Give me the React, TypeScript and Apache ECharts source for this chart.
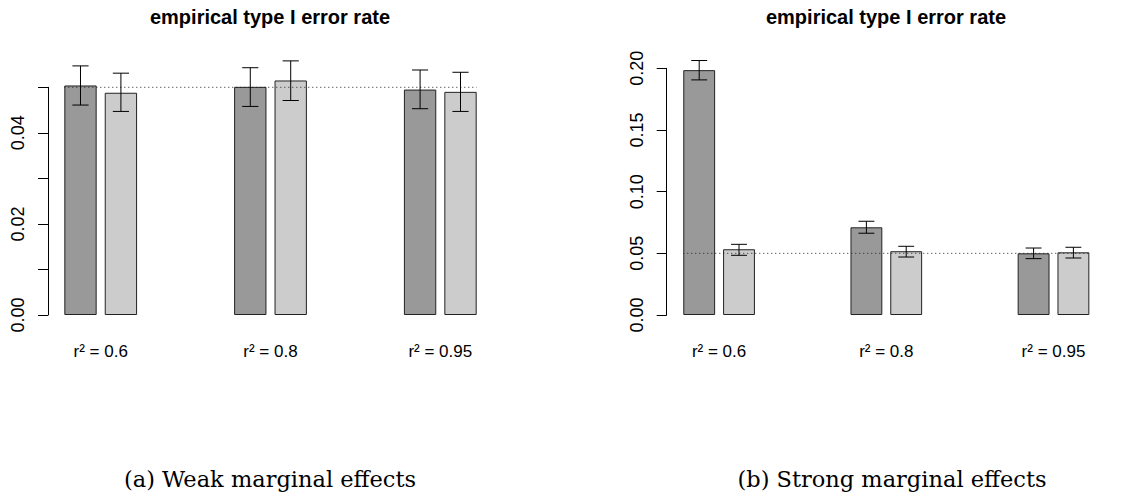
import React, { useEffect, useRef } from "react";
import * as echarts from "echarts";

// ---- data ----
const categories = ["r² = 0.6", "r² = 0.8", "r² = 0.95"];

// (a) weak marginal effects
const weakMethod1 = [0.0504, 0.0501, 0.0495];
const weakMethod1Lo = [0.0461, 0.0458, 0.0453];
const weakMethod1Hi = [0.0547, 0.0543, 0.0538];
const weakMethod2 = [0.0488, 0.0515, 0.049];
const weakMethod2Lo = [0.0447, 0.0471, 0.0447];
const weakMethod2Hi = [0.0531, 0.0558, 0.0533];

// (b) strong marginal effects
const strongMethod1 = [0.1985, 0.0711, 0.05];
const strongMethod1Lo = [0.1906, 0.0663, 0.0457];
const strongMethod1Hi = [0.2063, 0.076, 0.0543];
const strongMethod2 = [0.0533, 0.0517, 0.0508];
const strongMethod2Lo = [0.0484, 0.047, 0.0462];
const strongMethod2Hi = [0.0573, 0.0557, 0.0549];

const nominalLevel = 0.05;

const weakTicks = [0, 0.01, 0.02, 0.03, 0.04, 0.05];
const weakTickLabels = ["0.00", "", "0.02", "", "0.04", ""];
const strongTicks = [0, 0.05, 0.1, 0.15, 0.2];
const strongTickLabels = ["0.00", "0.05", "0.10", "0.15", "0.20"];

const panelTitle = "empirical type I error rate";
const captions = ["(a) Weak marginal effects", "(b) Strong marginal effects"];

// ---- layout constants ----
const SANS = "'Liberation Sans', Arial, Helvetica, sans-serif";
const SERIF = "'DejaVu Serif', 'Liberation Serif', serif";
const BAND_UNITS = 5.25; // category band measured in bar widths
const DARK = "#999999";
const LIGHT = "#cccccc";

function labelFor(ticks: number[], labels: string[]) {
  return (v: number) => {
    let best = 0;
    for (let i = 0; i < ticks.length; i++) {
      if (Math.abs(ticks[i] - v) < Math.abs(ticks[best] - v)) best = i;
    }
    return labels[best];
  };
}

function errorSeries(p: number, lo: number[], hi: number[], shift: number) {
  return {
    type: "custom",
    xAxisIndex: p,
    yAxisIndex: p,
    z: 4,
    silent: true,
    data: lo.map((l, i) => [i, l, hi[i]]),
    encode: { x: 0, y: [1, 2] },
    renderItem: (params: any, api: any) => {
      const cat = api.value(0);
      const pLo = api.coord([cat, api.value(1)]);
      const pHi = api.coord([cat, api.value(2)]);
      const band = api.size([1, 0])[0];
      const unit = band / BAND_UNITS;
      const x = pLo[0] + shift * unit;
      const half = 0.25 * unit;
      const style = { stroke: "#000", lineWidth: 1 };
      return {
        type: "group",
        children: [
          { type: "line", shape: { x1: x, y1: pLo[1], x2: x, y2: pHi[1] }, style },
          { type: "line", shape: { x1: x - half, y1: pLo[1], x2: x + half, y2: pLo[1] }, style },
          { type: "line", shape: { x1: x - half, y1: pHi[1], x2: x + half, y2: pHi[1] }, style },
        ],
      };
    },
  };
}

function refLineSeries(p: number) {
  return {
    type: "custom",
    xAxisIndex: p,
    yAxisIndex: p,
    z: 3,
    silent: true,
    data: [[0, nominalLevel]],
    renderItem: (params: any, api: any) => {
      const v = api.value(1);
      const a = api.coord([0, v]);
      const b = api.coord([categories.length - 1, v]);
      const unit = api.size([1, 0])[0] / BAND_UNITS;
      return {
        type: "line",
        shape: { x1: a[0] - 1.125 * unit, y1: a[1], x2: b[0] + 1.125 * unit, y2: b[1] },
        style: { stroke: "#222", lineWidth: 1, lineDash: [1, 3] },
      };
    },
  };
}

function barSeries(p: number, values: number[], color: string) {
  return {
    type: "bar",
    xAxisIndex: p,
    yAxisIndex: p,
    data: values,
    barWidth: (100 / BAND_UNITS).toFixed(3) + "%",
    barGap: "25%",
    clip: false,
    silent: true,
    itemStyle: { color, borderColor: "#222", borderWidth: 1 },
  };
}

export default function App() {
  const ref = useRef<HTMLDivElement>(null);

  useEffect(() => {
    document.body.style.margin = "0";
    if (!ref.current) return;
    const chart = echarts.init(ref.current, undefined, { renderer: "svg" });

    const xAxis = (p: number) => ({
      type: "category",
      gridIndex: p,
      data: categories,
      axisLine: { show: false },
      axisTick: { show: false },
      axisLabel: { margin: 28, fontSize: 17, color: "#000", fontFamily: SANS },
    });

    const yAxis = (p: number, max: number, interval: number, offset: number, ticks: number[], labels: string[]) => ({
      type: "value",
      gridIndex: p,
      min: 0,
      max,
      interval,
      offset,
      splitLine: { show: false },
      axisLine: { show: true, lineStyle: { color: "#000", width: 1 } },
      axisTick: { show: true, length: 10, lineStyle: { color: "#000", width: 1 } },
      axisLabel: {
        rotate: 90,
        margin: 21,
        fontSize: 18,
        color: "#000",
        fontFamily: SANS,
        formatter: labelFor(ticks, labels),
      },
    });

    const textEl = (x: number, y: number, text: string, font: any) => ({
      type: "text",
      x,
      y,
      silent: true,
      style: {
        text,
        fill: "#000",
        align: "center",
        verticalAlign: "middle",
        textAlign: "center",
        textVerticalAlign: "middle",
        ...font,
      },
    });

    chart.setOption({
      animation: false,
      backgroundColor: "#fff",
      grid: [
        { left: 15.8, width: 509.4, top: 87.3, height: 227.7 },
        { left: 635.5, width: 501.6, top: 68.3, height: 246.7 },
      ],
      xAxis: [xAxis(0), xAxis(1)],
      yAxis: [
        yAxis(0, 0.05, 0.01, -32.2, weakTicks, weakTickLabels),
        yAxis(1, 0.2, 0.05, -31.2, strongTicks, strongTickLabels),
      ],
      series: [
        barSeries(0, weakMethod1, DARK),
        barSeries(0, weakMethod2, LIGHT),
        refLineSeries(0),
        errorSeries(0, weakMethod1Lo, weakMethod1Hi, -0.625),
        errorSeries(0, weakMethod2Lo, weakMethod2Hi, 0.625),
        barSeries(1, strongMethod1, DARK),
        barSeries(1, strongMethod2, LIGHT),
        refLineSeries(1),
        errorSeries(1, strongMethod1Lo, strongMethod1Hi, -0.625),
        errorSeries(1, strongMethod2Lo, strongMethod2Hi, 0.625),
      ],
      graphic: [
        textEl(270, 17, panelTitle, { fontSize: 20, fontWeight: "bold", fontFamily: SANS }),
        textEl(886, 17, panelTitle, { fontSize: 20, fontWeight: "bold", fontFamily: SANS }),
        textEl(270, 479, captions[0], { fontSize: 22.5, fontFamily: SERIF }),
        textEl(892, 479, captions[1], { fontSize: 22.5, fontFamily: SERIF }),
      ],
    });

    return () => chart.dispose();
  }, []);

  return <div ref={ref} style={{ width: 1138, height: 497 }} />;
}
